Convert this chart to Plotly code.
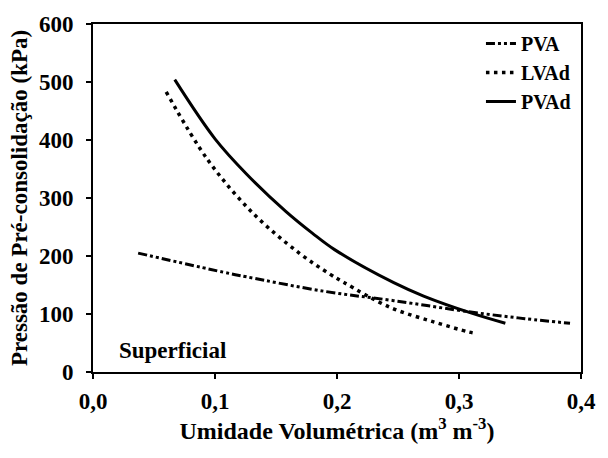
import plotly.graph_objects as go

# PVA (dash-dot-dot)
pva_x = [0.037, 0.107, 0.126, 0.190, 0.2465, 0.311, 0.354, 0.391]
pva_y = [205, 172, 164, 139, 123, 103, 92, 84]

# LVAd (dotted)
lvad_x = [0.060, 0.094, 0.131, 0.169, 0.194, 0.206, 0.244, 0.280, 0.308, 0.315]
lvad_y = [483, 366, 274, 205, 169, 154, 111, 86, 69, 66]

# PVAd (solid)
pvad_x = [0.067, 0.100, 0.126, 0.158, 0.180, 0.198, 0.2465, 0.271, 0.311, 0.338]
pvad_y = [504, 402, 341, 277, 239, 211, 154, 131, 101, 84]

x_ticks = [0.0, 0.1, 0.2, 0.3, 0.4]
x_tick_labels = ["0,0", "0,1", "0,2", "0,3", "0,4"]
y_ticks = [0, 100, 200, 300, 400, 500, 600]

FONT = "'Liberation Serif', 'Times New Roman', Times, serif"

fig = go.Figure()
fig.add_trace(go.Scatter(x=pva_x, y=pva_y, mode="lines", name="<b>PVA</b>", legendgroup="a",
                         line=dict(color="black", width=3, shape="spline",
                                   dash="9px,3px,3px,3px,3px,3px")))
fig.add_trace(go.Scatter(x=lvad_x, y=lvad_y, mode="lines", name="<b>LVAd</b>", legendgroup="b",
                         line=dict(color="black", width=3.5, shape="spline", dash="3.5px,4.5px")))
fig.add_trace(go.Scatter(x=pvad_x, y=pvad_y, mode="lines", name="<b>PVAd</b>", legendgroup="c",
                         line=dict(color="black", width=3, shape="spline")))

fig.add_annotation(x=0.02, y=37, xref="x", yref="y", text="<b>Superficial</b>",
                   showarrow=False, xanchor="left", yanchor="middle",
                   font=dict(family=FONT, size=23, color="black"))

axis_common = dict(showgrid=False, zeroline=False, showline=True, linecolor="black",
                   linewidth=2, mirror=True, ticks="outside", ticklen=5, tickwidth=1.5,
                   tickcolor="black",
                   tickfont=dict(family=FONT, size=23, color="black"))

fig.update_layout(
    width=608, height=458,
    margin=dict(l=93, r=17, t=21, b=86),
    paper_bgcolor="white", plot_bgcolor="white",
    font=dict(family=FONT, color="black"),
    xaxis=dict(range=[0, 0.4], tickvals=x_ticks, ticktext=["<b>%s</b>" % t for t in x_tick_labels],
               ticklabelstandoff=2,
               title=dict(text="<b>Umidade Volumétrica (m<sup>3</sup> m<sup>-3</sup>)</b>",
                          font=dict(family=FONT, size=24, color="black"), standoff=10),
               **axis_common),
    yaxis=dict(range=[0, 600], tickvals=y_ticks, ticktext=["<b>%d</b>" % v for v in y_ticks],
               ticklabelstandoff=8,
               title=dict(text="<b>Pressão de Pré-consolidação (kPa)</b>",
                          font=dict(family=FONT, size=23, color="black"), standoff=5),
               **axis_common),
    legend=dict(x=0.795, y=1.0, xanchor="left", yanchor="top", bgcolor="rgba(0,0,0,0)",
                font=dict(family=FONT, size=20, color="black"), tracegroupgap=0,
                traceorder="grouped"),
    showlegend=True,
)

fig.write_html("out.html", config={"displayModeBar": False},
               post_script="document.body.style.margin='0px';")
